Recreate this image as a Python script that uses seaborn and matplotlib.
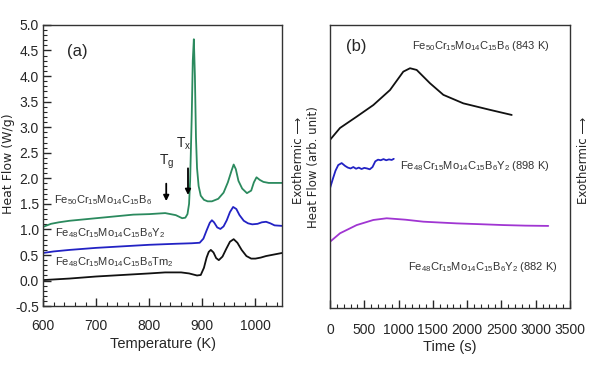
import numpy as np
import pandas as pd
import matplotlib
matplotlib.use("Agg")
import matplotlib.pyplot as plt
import seaborn as sns
from matplotlib.ticker import MultipleLocator

# ---------------- data: panel (a) DSC scans ----------------
t_fe50 = [600, 605, 615, 630, 650, 680, 710, 740, 770, 800, 830, 850, 862, 868, 872, 875, 877,
          880, 882, 884, 886, 888, 890, 893, 897, 903, 910, 918, 930, 940, 948, 955, 959, 963,
          968, 975, 984, 992, 997, 1002, 1008, 1015, 1025, 1035, 1050]
v_fe50 = [1.05, 1.07, 1.11, 1.14, 1.17, 1.20, 1.23, 1.26, 1.29, 1.30, 1.32, 1.28, 1.22, 1.23, 1.30, 1.50, 1.95,
          3.20, 4.30, 4.72, 4.00, 2.80, 2.20, 1.85, 1.66, 1.58, 1.55, 1.55, 1.60, 1.72, 1.92, 2.15, 2.27, 2.18,
          1.95, 1.80, 1.71, 1.76, 1.92, 2.02, 1.97, 1.93, 1.91, 1.91, 1.91]

t_fe48y = [600, 620, 650, 700, 750, 800, 850, 880, 895, 902, 908, 914, 918, 922, 928, 934, 940, 946,
           952, 958, 964, 970, 978, 986, 994, 1004, 1012, 1020, 1028, 1036, 1050]
v_fe48y = [0.54, 0.57, 0.60, 0.64, 0.67, 0.70, 0.72, 0.73, 0.74, 0.82, 0.98, 1.13, 1.18, 1.14, 1.04, 1.01, 1.06, 1.18,
           1.34, 1.44, 1.40, 1.28, 1.17, 1.12, 1.10, 1.11, 1.14, 1.15, 1.12, 1.08, 1.07]

t_fe48tm = [600, 650, 700, 750, 800, 830, 860, 875, 890, 897, 903, 908, 912, 916, 921, 926, 931, 938,
            945, 952, 959, 966, 974, 983, 992, 1000, 1010, 1020, 1030, 1040, 1050]
v_fe48tm = [0.01, 0.04, 0.08, 0.11, 0.14, 0.16, 0.16, 0.14, 0.10, 0.11, 0.25, 0.45, 0.56, 0.60, 0.55, 0.44, 0.40, 0.47,
            0.62, 0.76, 0.81, 0.74, 0.60, 0.48, 0.43, 0.43, 0.45, 0.48, 0.50, 0.52, 0.54]

labels_a = [r"Fe$_{50}$Cr$_{15}$Mo$_{14}$C$_{15}$B$_6$",
            r"Fe$_{48}$Cr$_{15}$Mo$_{14}$C$_{15}$B$_6$Y$_2$",
            r"Fe$_{48}$Cr$_{15}$Mo$_{14}$C$_{15}$B$_6$Tm$_2$"]

# ---------------- data: panel (b) isothermal scans ----------------
s_843 = [0, 146, 389, 632, 875, 1069, 1167, 1264, 1458, 1653, 1944, 2333, 2650]
h_843 = [5.94, 6.36, 6.76, 7.17, 7.70, 8.35, 8.47, 8.41, 7.94, 7.53, 7.23, 7.00, 6.82]

s_898 = [0, 40, 80, 120, 170, 220, 260, 300, 340, 380, 420, 460, 500, 540, 580, 620, 660, 700,
         740, 780, 820, 860, 900, 930]
h_898 = [4.23, 4.55, 4.85, 5.05, 5.12, 5.02, 4.96, 4.93, 4.98, 4.92, 4.96, 4.91, 4.95, 4.93, 4.90, 4.98, 5.18, 5.24,
         5.22, 5.26, 5.22, 5.25, 5.23, 5.27]

s_882 = [0, 146, 389, 632, 826, 1100, 1361, 1600, 1847, 2200, 2528, 2850, 3183]
h_882 = [2.34, 2.64, 2.93, 3.11, 3.17, 3.12, 3.05, 3.02, 2.99, 2.96, 2.93, 2.91, 2.90]

labels_b = [r"Fe$_{50}$Cr$_{15}$Mo$_{14}$C$_{15}$B$_6$ (843 K)",
            r"Fe$_{48}$Cr$_{15}$Mo$_{14}$C$_{15}$B$_6$Y$_2$ (898 K)",
            r"Fe$_{48}$Cr$_{15}$Mo$_{14}$C$_{15}$B$_6$Y$_2$ (882 K)"]

GREEN = "#2b8a5e"
BLUE = "#2222c4"
BLACK = "#111111"
PURPLE = "#a035d2"

sns.set_style("white")
plt.rcParams["font.family"] = ["Liberation Sans", "DejaVu Sans"]
plt.rcParams["mathtext.fontset"] = "custom"
plt.rcParams["mathtext.rm"] = "Liberation Sans"
plt.rcParams["mathtext.it"] = "Liberation Sans"

fig = plt.figure(figsize=(6.0, 3.72), dpi=100)
axa = fig.add_axes([0.0717, 0.177, 0.3983, 0.756])
axb = fig.add_axes([0.55, 0.172, 0.40, 0.761])

# ---- panel (a)
for t, v, c in [(t_fe50, v_fe50, GREEN), (t_fe48y, v_fe48y, BLUE), (t_fe48tm, v_fe48tm, BLACK)]:
    df = pd.DataFrame({"T": t, "V": v})
    sns.lineplot(data=df, x="T", y="V", ax=axa, color=c, lw=1.3, sort=False, estimator=None)

axa.set_xlim(600, 1050)
axa.set_ylim(-0.5, 5.0)
axa.xaxis.set_major_locator(MultipleLocator(100))
axa.xaxis.set_minor_locator(MultipleLocator(20))
axa.yaxis.set_major_locator(MultipleLocator(0.5))
axa.yaxis.set_minor_locator(MultipleLocator(0.1))
axa.tick_params(which="major", direction="in", length=6, width=1, labelsize=10)
axa.tick_params(which="minor", direction="in", length=3, width=0.8)
axa.tick_params(axis="x", which="both", top=False, bottom=True, pad=9)
axa.tick_params(axis="y", which="both", left=True, right=False, pad=3)
axa.yaxis.set_major_formatter(matplotlib.ticker.FuncFormatter(lambda v, p: f"{v:.1f}"))
axa.set_xlabel("Temperature (K)", fontsize=10.5, labelpad=3)
axa.set_ylabel("")
for sp in axa.spines.values():
    sp.set_color("#333333")
    sp.set_linewidth(1.0)

axa.text(645, 4.48, "(a)", fontsize=12, ha="left", va="center")
axa.text(620, 1.58, labels_a[0], fontsize=8, ha="left", va="center", color="#333333")
axa.text(622, 0.93, labels_a[1], fontsize=8, ha="left", va="center", color="#333333")
axa.text(622, 0.36, labels_a[2], fontsize=8, ha="left", va="center", color="#333333")
axa.annotate("", xy=(832, 1.50), xytext=(832, 1.95),
             arrowprops=dict(arrowstyle="-|>", color="black", lw=1.3, mutation_scale=8))
axa.annotate("", xy=(873, 1.62), xytext=(873, 2.25),
             arrowprops=dict(arrowstyle="-|>", color="black", lw=1.3, mutation_scale=8))
axa.text(832, 2.32, r"T$_\mathrm{g}$", fontsize=10, ha="center", va="center")
axa.text(865, 2.67, r"T$_\mathrm{x}$", fontsize=10, ha="center", va="center")

fig.text(0.015, 0.56, "Heat Flow (W/g)", rotation=90, fontsize=9, ha="center", va="center",
         family="DejaVu Sans")

# ---- panel (b)
for s, h, c in [(s_843, h_843, BLACK), (s_898, h_898, BLUE), (s_882, h_882, PURPLE)]:
    df = pd.DataFrame({"t": s, "h": h})
    sns.lineplot(data=df, x="t", y="h", ax=axb, color=c, lw=1.3, sort=False, estimator=None)

axb.set_xlim(0, 3500)
axb.set_ylim(0, 10)
axb.xaxis.set_major_locator(MultipleLocator(500))
axb.xaxis.set_minor_locator(MultipleLocator(100))
axb.set_yticks([])
axb.tick_params(which="major", direction="in", length=6, width=1, labelsize=10, pad=11)
axb.tick_params(which="minor", direction="in", length=3, width=0.8)
axb.tick_params(axis="x", which="both", top=False, bottom=True)
axb.set_xlabel("Time (s)", fontsize=10.5, labelpad=2)
axb.set_ylabel("")
for sp in axb.spines.values():
    sp.set_color("#333333")
    sp.set_linewidth(1.0)

axb.text(230, 9.25, "(b)", fontsize=12, ha="left", va="center")
axb.text(3200, 9.25, labels_b[0], fontsize=8, ha="right", va="center", color="#333333")
axb.text(3200, 5.0, labels_b[1], fontsize=8, ha="right", va="center", color="#333333")
axb.text(3320, 1.45, labels_b[2], fontsize=8, ha="right", va="center", color="#333333")

fig.text(0.497, 0.57, "Exothermic \u27f6", rotation=90, fontsize=8.5, ha="center", va="center",
         family="DejaVu Sans")
fig.text(0.522, 0.55, "Heat Flow (arb. unit)", rotation=90, fontsize=8.5, ha="center", va="center",
         family="DejaVu Sans")
fig.text(0.972, 0.57, "Exothermic \u27f6", rotation=90, fontsize=8.5, ha="center", va="center",
         family="DejaVu Sans")

fig.savefig("out.png", dpi=100)
